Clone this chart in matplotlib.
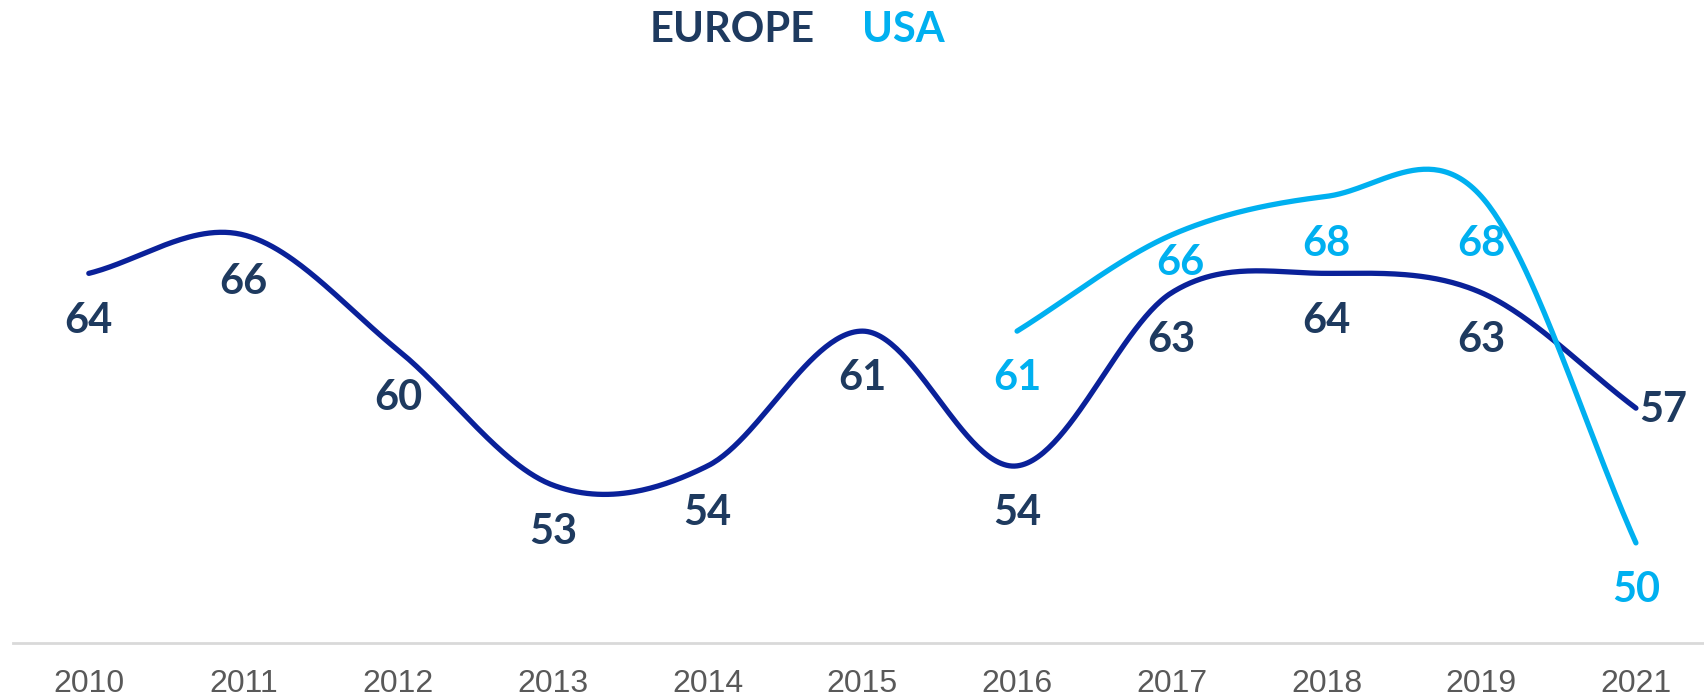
import numpy as np
import matplotlib
matplotlib.use("Agg")
import matplotlib.pyplot as plt

years = ["2010", "2011", "2012", "2013", "2014", "2015", "2016", "2017", "2018", "2019", "2021"]
europe = [64, 66, 60, 53, 54, 61, 54, 63, 64, 63, 57]
usa_years = ["2016", "2017", "2018", "2019", "2021"]
usa = [61, 66, 68, 68, 50]

EU_LINE = "#0A2199"
EU_TEXT = "#1E3A5F"
US_COL = "#00B0F0"
TICK_COL = "#595959"


def catmull(xs, ys, n=60):
    xs = np.asarray(xs, float)
    ys = np.asarray(ys, float)
    m = np.zeros_like(ys)
    m[1:-1] = (ys[2:] - ys[:-2]) / 2.0
    m[0] = ys[1] - ys[0]
    m[-1] = ys[-1] - ys[-2]
    outx, outy = [], []
    for i in range(len(xs) - 1):
        t = np.linspace(0, 1, n)
        h00 = 2 * t**3 - 3 * t**2 + 1
        h10 = t**3 - 2 * t**2 + t
        h01 = -2 * t**3 + 3 * t**2
        h11 = t**3 - t**2
        outx.append(xs[i] + t * (xs[i + 1] - xs[i]))
        outy.append(h00 * ys[i] + h10 * m[i] + h01 * ys[i + 1] + h11 * m[i + 1])
    return np.concatenate(outx), np.concatenate(outy)


W, H = 1704, 696
fig = plt.figure(figsize=(W / 100, H / 100), dpi=100)
ax = fig.add_axes([13 / W, (H - 643) / H, 1 - 13 / W, 643 / H])

xe = np.arange(len(years))
xu = np.array([years.index(y) for y in usa_years])

sx, sy = catmull(xe, europe)
ax.plot(sx, sy, color=EU_LINE, lw=3.8, solid_capstyle="round", zorder=3)
sx, sy = catmull(xu, usa)
ax.plot(sx, sy, color=US_COL, lw=3.8, solid_capstyle="round", zorder=3)

lab_font = dict(family="Lato", weight="bold", fontsize=30)
eu_off = {10: (20, -1)}
us_off = {1: (6, -20)}
for i, v in enumerate(europe):
    dx, dy = eu_off.get(i, (0, -34))
    ax.annotate(str(v), (xe[i], v), xytext=(dx, dy), textcoords="offset points",
                ha="center", va="center", color=EU_TEXT, zorder=4, **lab_font)
for i, v in enumerate(usa):
    dx, dy = us_off.get(i, (0, -34))
    ax.annotate(str(v), (xu[i], v), xytext=(dx, dy), textcoords="offset points",
                ha="center", va="center", color=US_COL, zorder=4, **lab_font)

ax.set_xlim(-0.49, 10.44)
ax.set_ylim(44.8, 78.2)
ax.set_xticks(xe)
ax.set_xticklabels(years, fontsize=23, color=TICK_COL, family="Liberation Sans")
ax.tick_params(axis="x", length=0, pad=19)
ax.set_yticks([])
for s in ["top", "left", "right"]:
    ax.spines[s].set_visible(False)
ax.spines["bottom"].set_color("#D9D9D9")
ax.spines["bottom"].set_linewidth(2)
ax.patch.set_alpha(0)

fig.text(732 / W, 1 - 30 / H, "EUROPE", ha="center", va="center", color=EU_TEXT,
         family="Lato", weight="bold", fontsize=30)
fig.text(903 / W, 1 - 30 / H, "USA", ha="center", va="center", color=US_COL,
         family="Lato", weight="bold", fontsize=30)

fig.savefig("out.png", dpi=100, facecolor="white")
